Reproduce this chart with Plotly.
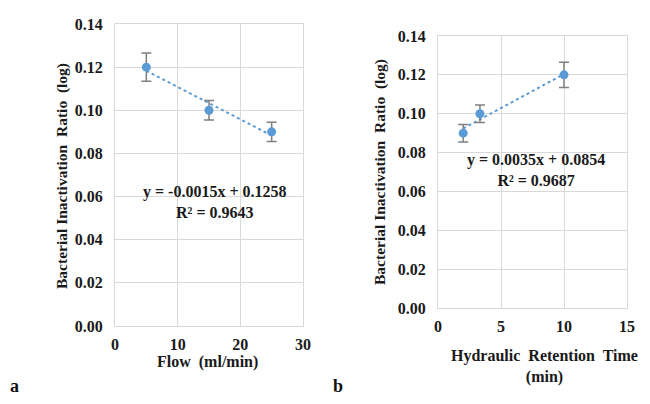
import plotly.graph_objects as go

# Panel a data
flow = [5, 15, 25]
ratio_a = [0.120, 0.100, 0.090]
err_a = [0.0065, 0.0045, 0.0045]
slope_a, icpt_a = -0.0015, 0.1258

# Panel b data
hrt = [2, 3.33, 10]
ratio_b = [0.090, 0.100, 0.120]
err_b = [0.0045, 0.0045, 0.0065]
slope_b, icpt_b = 0.0035, 0.0854

yticks = [0, 0.02, 0.04, 0.06, 0.08, 0.10, 0.12, 0.14]
ytick_text = ["0.00", "0.02", "0.04", "0.06", "0.08", "0.10", "0.12", "0.14"]
xticks_a = [0, 10, 20, 30]
xticks_b = [0, 5, 10, 15]

BLUE = "#5B9BD5"
GRID = "#D9D9D9"
FONT = "Liberation Serif, Times New Roman, serif"
W, H, OFF = 650, 404, 8  # page body margin offset


def px(X):
    return (X - OFF) / W


def py(Y):
    return 1 - (Y - OFF) / H


fig = go.Figure()


def add_panel(x, y, e, slope, icpt, xa, ya):
    tx = [min(x), max(x)]
    ty = [slope * v + icpt for v in tx]
    fig.add_trace(go.Scatter(x=tx, y=ty, mode="lines", xaxis=xa, yaxis=ya,
                             line=dict(color=BLUE, width=2, dash="dot"),
                             showlegend=False, hoverinfo="skip"))
    fig.add_trace(go.Scatter(x=x, y=y, mode="markers", xaxis=xa, yaxis=ya,
                             marker=dict(color=BLUE, size=9),
                             error_y=dict(type="data", array=e, color="#7F7F7F",
                                          thickness=1.5, width=5),
                             showlegend=False))


add_panel(flow, ratio_a, err_a, slope_a, icpt_a, "x", "y")
add_panel(hrt, ratio_b, err_b, slope_b, icpt_b, "x2", "y2")

bold = lambda vals: ["<b>%s</b>" % v for v in vals]

tickfont = dict(family=FONT, size=16, color="#1a1a1a")
common_x = dict(showgrid=True, gridcolor=GRID, gridwidth=1, zeroline=False,
                showline=True, linecolor=GRID, mirror=True, ticks="",
                tickfont=tickfont, ticklabelstandoff=4, automargin=False)
common_y = dict(range=[0, 0.14], tickvals=yticks, ticktext=bold(ytick_text),
                showgrid=True, gridcolor=GRID, gridwidth=1, zeroline=False,
                showline=True, linecolor=GRID, mirror=True, ticks="",
                tickfont=tickfont, ticklabelstandoff=8, automargin=False)

fig.update_layout(
    width=W, height=H, autosize=False,
    margin=dict(l=0, r=0, t=0, b=0, pad=0),
    paper_bgcolor="white", plot_bgcolor="white",
    xaxis=dict(domain=[px(115), px(303)], range=[0, 30], tickvals=xticks_a,
               ticktext=bold(xticks_a), anchor="y", **common_x),
    yaxis=dict(domain=[py(326), py(24)], anchor="x", **common_y),
    xaxis2=dict(domain=[px(438), px(627)], range=[0, 15], tickvals=xticks_b,
                ticktext=bold(xticks_b), anchor="y2", **common_x),
    yaxis2=dict(domain=[py(308), py(36)], anchor="x2", **common_y),
)

tf = dict(family=FONT, size=16, color="#1a1a1a")
ann = [
    dict(text="y = -0.0015x + 0.1258<br>R² = 0.9643", x=215, y=202),
    dict(text="y = 0.0035x + 0.0854<br>R² = 0.9687", x=536, y=170),
    dict(text="Flow  (ml/min)", x=207, y=362),
    dict(text="Hydraulic  Retention  Time<br>(min)", x=544, y=366),
    dict(text="Bacterial Inactivation  Ratio  (log)", x=62, y=176, textangle=-90, size=15.5),
    dict(text="Bacterial Inactivation  Ratio  (log)", x=380, y=172, textangle=-90, size=15.5),
]
for a in ann:
    f = dict(tf)
    if "size" in a:
        f["size"] = a["size"]
    fig.add_annotation(text="<b>" + a["text"].replace("<br>", "</b><br><b>") + "</b>",
                       x=px(a["x"]), y=py(a["y"]),
                       xref="paper", yref="paper", showarrow=False,
                       textangle=a.get("textangle", 0), font=f,
                       xanchor="center", yanchor="middle", align="center")

for lbl, X in (("a", 14), ("b", 338)):
    fig.add_annotation(text="<b>%s</b>" % lbl, x=px(X), y=py(386),
                       xref="paper", yref="paper",
                       showarrow=False, xanchor="center", yanchor="middle",
                       font=dict(family=FONT, size=18, color="#111"))

fig.write_html("out.html")
